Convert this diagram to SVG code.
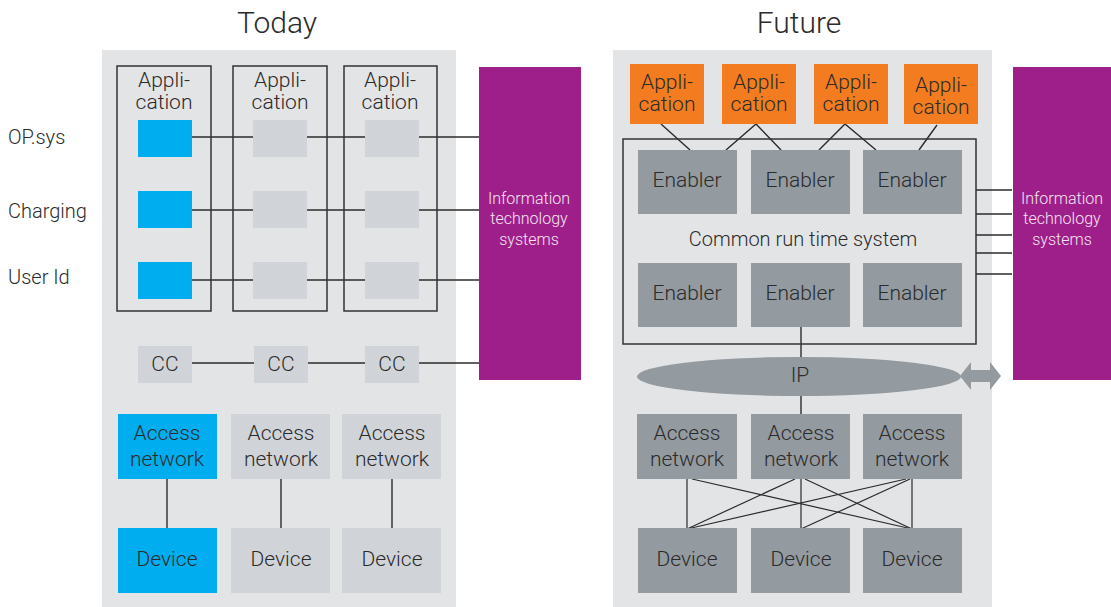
<svg xmlns="http://www.w3.org/2000/svg" width="1111" height="607" viewBox="0 0 1111 607">
  <style>
    text { font-family: Roboto, "Liberation Sans", sans-serif; font-weight: 300; fill: #2b2b2b; text-anchor: middle; }
    .title { font-size: 30px; }
    .lbl { font-size: 21px; }
    .side { font-size: 20px; text-anchor: start; }
    .small { font-size: 16px; fill: #f3e6f1; }
    .panel { fill: #e3e4e6; }
    .frame { fill: none; stroke: #333; stroke-width: 1.5; }
    .lt { fill: #d0d4d8; }
    .blue { fill: #00adef; }
    .dk { fill: #939aa0; }
    .org { fill: #f47c20; }
    .it { fill: #9f1f8a; }
    .ln { stroke: #2b2b2b; stroke-width: 1.4; fill: none; }
  </style>

  <!-- titles -->
  <text class="title" x="277" y="33">Today</text>
  <text class="title" x="799" y="33">Future</text>

  <!-- row labels -->
  <text class="side" x="8" y="144">OP.sys</text>
  <text class="side" x="8" y="218">Charging</text>
  <text class="side" x="8" y="284">User Id</text>

  <!-- panels -->
  <rect class="panel" x="102" y="50" width="354" height="557"/>
  <rect class="panel" x="613" y="50" width="379" height="557"/>

  <!-- connectors -->
  <g id="connectors">
    <!-- today: service rows -->
    <line class="ln" x1="191" y1="137" x2="480" y2="137"/>
    <line class="ln" x1="191" y1="210" x2="480" y2="210"/>
    <line class="ln" x1="191" y1="280" x2="480" y2="280"/>
    <line class="ln" x1="191" y1="363" x2="480" y2="363"/>
    <line class="ln" x1="167" y1="479" x2="167" y2="528"/>
    <line class="ln" x1="281" y1="479" x2="281" y2="528"/>
    <line class="ln" x1="392" y1="479" x2="392" y2="528"/>
    <!-- future: applications to enablers -->
    <line class="ln" x1="661" y1="124" x2="690" y2="150"/>
    <polyline class="ln" points="726,150 756,124 781,150"/>
    <polyline class="ln" points="819,150 845,124 876,150"/>
    <line class="ln" x1="937" y1="125" x2="919" y2="150"/>
    <!-- future: run time system to IT -->
    <line class="ln" x1="976" y1="190" x2="1012" y2="190"/>
    <line class="ln" x1="976" y1="214" x2="1012" y2="214"/>
    <line class="ln" x1="976" y1="235" x2="1012" y2="235"/>
    <line class="ln" x1="976" y1="253" x2="1012" y2="253"/>
    <line class="ln" x1="976" y1="274" x2="1012" y2="274"/>
    <!-- future: enabler / IP / access -->
    <line class="ln" x1="801" y1="327" x2="801" y2="360"/>
    <line class="ln" x1="801" y1="394" x2="801" y2="414"/>
    <!-- future: access mesh -->
    <g stroke="#2b2b2b" stroke-width="1.2">
      <line x1="687" y1="479" x2="687" y2="529"/>
      <line x1="692" y1="479" x2="912" y2="529"/>
      <line x1="795" y1="479" x2="687" y2="529"/>
      <line x1="801" y1="479" x2="801" y2="529"/>
      <line x1="805" y1="479" x2="912" y2="529"/>
      <line x1="906" y1="479" x2="687" y2="529"/>
      <line x1="910" y1="479" x2="801" y2="529"/>
      <line x1="912" y1="479" x2="912" y2="529"/>
    </g>
  </g>

  <!-- today: application columns -->
  <g id="today-app-1">
    <rect class="frame" x="117" y="66" width="94" height="245"/>
    <text class="lbl" x="164" y="87">Appli-</text>
    <text class="lbl" x="164" y="109">cation</text>
    <rect class="blue" x="138" y="120" width="54" height="37"/>
    <rect class="blue" x="138" y="191" width="54" height="37"/>
    <rect class="blue" x="138" y="262" width="54" height="37"/>
  </g>
  <g id="today-app-2">
    <rect class="frame" x="233" y="66" width="94" height="245"/>
    <text class="lbl" x="280" y="87">Appli-</text>
    <text class="lbl" x="280" y="109">cation</text>
    <rect class="lt" x="253" y="120" width="54" height="37"/>
    <rect class="lt" x="253" y="191" width="54" height="37"/>
    <rect class="lt" x="253" y="262" width="54" height="37"/>
  </g>
  <g id="today-app-3">
    <rect class="frame" x="344" y="66" width="93" height="245"/>
    <text class="lbl" x="390" y="87">Appli-</text>
    <text class="lbl" x="390" y="109">cation</text>
    <rect class="lt" x="365" y="120" width="54" height="37"/>
    <rect class="lt" x="365" y="191" width="54" height="37"/>
    <rect class="lt" x="365" y="262" width="54" height="37"/>
  </g>

  <!-- today: CC nodes -->
  <g id="today-cc-1"><rect class="lt" x="138" y="346" width="54" height="37"/><text class="lbl" x="165" y="371">CC</text></g>
  <g id="today-cc-2"><rect class="lt" x="254" y="346" width="54" height="37"/><text class="lbl" x="281" y="371">CC</text></g>
  <g id="today-cc-3"><rect class="lt" x="365" y="346" width="54" height="37"/><text class="lbl" x="392" y="371">CC</text></g>

  <!-- today: access networks -->
  <g id="today-access-1"><rect class="blue" x="118" y="414" width="99" height="65"/><text class="lbl" x="167" y="440">Access</text><text class="lbl" x="167" y="466">network</text></g>
  <g id="today-access-2"><rect class="lt" x="231" y="414" width="99" height="65"/><text class="lbl" x="281" y="440">Access</text><text class="lbl" x="281" y="466">network</text></g>
  <g id="today-access-3"><rect class="lt" x="342" y="414" width="99" height="65"/><text class="lbl" x="392" y="440">Access</text><text class="lbl" x="392" y="466">network</text></g>

  <!-- today: devices -->
  <g id="today-device-1"><rect class="blue" x="118" y="528" width="99" height="65"/><text class="lbl" x="167" y="566">Device</text></g>
  <g id="today-device-2"><rect class="lt" x="231" y="528" width="99" height="65"/><text class="lbl" x="281" y="566">Device</text></g>
  <g id="today-device-3"><rect class="lt" x="342" y="528" width="99" height="65"/><text class="lbl" x="392" y="566">Device</text></g>

  <!-- today: IT systems -->
  <g id="today-it">
    <rect class="it" x="479" y="67" width="102" height="313"/>
    <text class="small" x="529" y="204">Information</text>
    <text class="small" x="529" y="224">technology</text>
    <text class="small" x="529" y="245">systems</text>
  </g>

  <!-- future: applications -->
  <g id="future-app-1"><rect class="org" x="630" y="64" width="74" height="60"/><text class="lbl" x="667" y="89">Appli-</text><text class="lbl" x="667" y="111">cation</text></g>
  <g id="future-app-2"><rect class="org" x="722" y="64" width="74" height="60"/><text class="lbl" x="759" y="89">Appli-</text><text class="lbl" x="759" y="111">cation</text></g>
  <g id="future-app-3"><rect class="org" x="814" y="64" width="74" height="60"/><text class="lbl" x="851" y="89">Appli-</text><text class="lbl" x="851" y="111">cation</text></g>
  <g id="future-app-4"><rect class="org" x="904" y="64" width="74" height="60"/><text class="lbl" x="941" y="92">Appli-</text><text class="lbl" x="941" y="114">cation</text></g>

  <!-- future: common run time system -->
  <g id="runtime">
    <rect class="frame" x="623" y="139" width="353" height="205"/>
    <text class="lbl" x="803" y="246" style="font-size:20px">Common run time system</text>
  </g>
  <g id="enabler-1"><rect class="dk" x="638" y="150" width="99" height="64"/><text class="lbl" x="687" y="187">Enabler</text></g>
  <g id="enabler-2"><rect class="dk" x="751" y="150" width="99" height="64"/><text class="lbl" x="800" y="187">Enabler</text></g>
  <g id="enabler-3"><rect class="dk" x="863" y="150" width="99" height="64"/><text class="lbl" x="912" y="187">Enabler</text></g>
  <g id="enabler-4"><rect class="dk" x="638" y="263" width="99" height="64"/><text class="lbl" x="687" y="300">Enabler</text></g>
  <g id="enabler-5"><rect class="dk" x="751" y="263" width="99" height="64"/><text class="lbl" x="800" y="300">Enabler</text></g>
  <g id="enabler-6"><rect class="dk" x="863" y="263" width="99" height="64"/><text class="lbl" x="912" y="300">Enabler</text></g>

  <!-- future: IP network -->
  <g id="ip">
    <ellipse class="dk" cx="799" cy="376.5" rx="162" ry="19.5"/>
    <text class="lbl" x="800" y="382">IP</text>
  </g>
  <g id="ip-link">
    <polygon class="dk" points="960,376 971,362 971,370 990,370 990,362 1001,376 990,390 990,382 971,382 971,390"/>
  </g>

  <!-- future: access networks -->
  <g id="future-access-1"><rect class="dk" x="637" y="414" width="100" height="65"/><text class="lbl" x="687" y="440">Access</text><text class="lbl" x="687" y="466">network</text></g>
  <g id="future-access-2"><rect class="dk" x="751" y="414" width="99" height="65"/><text class="lbl" x="801" y="440">Access</text><text class="lbl" x="801" y="466">network</text></g>
  <g id="future-access-3"><rect class="dk" x="863" y="414" width="99" height="65"/><text class="lbl" x="912" y="440">Access</text><text class="lbl" x="912" y="466">network</text></g>

  <!-- future: devices -->
  <g id="future-device-1"><rect class="dk" x="638" y="528" width="99" height="65"/><text class="lbl" x="687" y="566">Device</text></g>
  <g id="future-device-2"><rect class="dk" x="751" y="528" width="99" height="65"/><text class="lbl" x="801" y="566">Device</text></g>
  <g id="future-device-3"><rect class="dk" x="863" y="528" width="99" height="65"/><text class="lbl" x="912" y="566">Device</text></g>

  <!-- future: IT systems -->
  <g id="future-it">
    <rect class="it" x="1013" y="67" width="98" height="313"/>
    <text class="small" x="1062" y="204">Information</text>
    <text class="small" x="1062" y="224">technology</text>
    <text class="small" x="1062" y="245">systems</text>
  </g>
</svg>
